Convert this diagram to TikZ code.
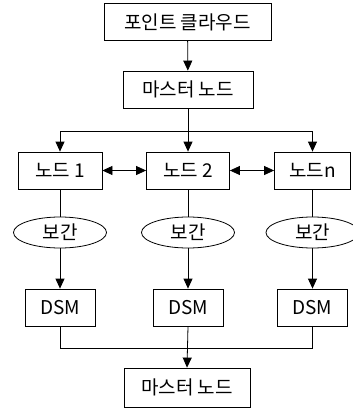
\documentclass[tikz,border=0pt]{standalone}
\usepackage{fontspec}
\setmainfont{Noto Sans CJK KR}
\usetikzlibrary{arrows.meta,shapes.geometric}

\begin{document}
\begin{tikzpicture}[x=1pt,y=-1pt,line width=0.8pt,>={Triangle[length=10pt,width=9pt]},
    font=\fontsize{19}{22}\selectfont]
    \tikzstyle{box}=[draw,rectangle,minimum height=37pt,inner sep=0pt]
    \tikzstyle{interp}=[draw,ellipse,minimum width=93pt,minimum height=31pt,inner sep=0pt]
    \useasboundingbox (0,0) rectangle (353,408);

    % Input and master node
    \node[box,minimum width=167pt] (cloud) at (187.5,22) {포인트 클라우드};
    \node[box,minimum width=130pt] (master) at (188,89.5) {마스터 노드};
    \draw[->] (cloud) -- (master);

    % Draw the worker nodes, interpolation and DSM for each column
    \foreach \name/\x/\w/\txt in {1/60/84/노드 1,2/188/83/노드 2,n/312.5/76/노드n}{
        \node[box,minimum width=\w pt] (node-\name) at (\x,170.5) {\txt};
        \node[interp] (interp-\name) at (\x,232.5) {보간};
        \node[box,minimum width=70pt] (dsm-\name) at (\x,307.5) {DSM};
        \draw (node-\name) -- (interp-\name);
        \draw[->] (interp-\name) -- (dsm-\name);
    }
    \node[box,minimum width=126pt,minimum height=39pt] (final) at (187,387.5) {마스터 노드};

    % Distribute from master node
    \coordinate (split) at (188,131);
    \draw (master) -- (split);
    \draw[->] (split) -| (node-1.north);
    \draw[->] (split) -- (node-2.north);
    \draw[->] (split) -| (node-n.north);

    % Links between nodes
    \draw[<->] (node-1) -- (node-2);
    \draw[<->] (node-2) -- (node-n);

    % Collect the DSMs
    \coordinate (join) at (188,348);
    \draw (dsm-1.south) |- (join);
    \draw (dsm-n.south) |- (join);
    \draw[->] (dsm-2.south) -- (final.north);
\end{tikzpicture}
\end{document}
